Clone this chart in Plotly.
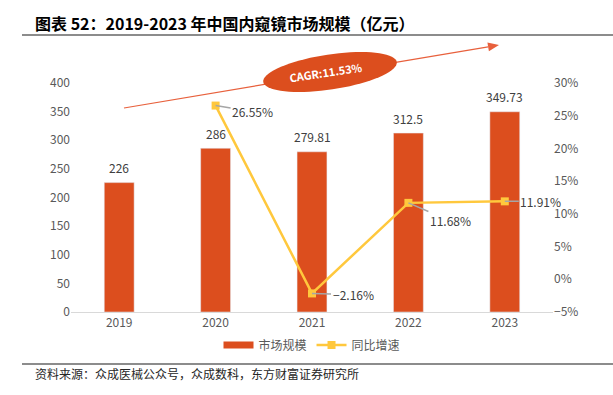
import numpy as np
import plotly.graph_objects as go

# ---------------- data ----------------
years = ["2019", "2020", "2021", "2022", "2023"]
market_size = [226, 286, 279.81, 312.5, 349.73]
size_labels = ["226", "286", "279.81", "312.5", "349.73"]
growth_years = ["2020", "2021", "2022", "2023"]
growth = [26.55, -2.16, 11.68, 11.91]
left_ticks = [0, 50, 100, 150, 200, 250, 300, 350, 400]
right_ticks = [-5, 0, 5, 10, 15, 20, 25, 30]
cagr_text = "CAGR:11.53%"
title_text = "图表 52：2019-2023 年中国内窥镜市场规模（亿元）"
source_text = "资料来源：众成医械公众号，众成数科，东方财富证券研究所"

# category positions on the x axis (from the category list)
xpos = list(range(len(years)))
gpos = [years.index(y) for y in growth_years]

# ---------------- styling ----------------
W, H = 613, 395
L, R, T, B = 71, 553, 83, 312
RED = "#DC4E1E"
YEL = "#FFC83D"
GRAY_TXT = "#595959"
FONT = "Noto Sans CJK SC"

def px(x):
    return float((x - L) / (R - L))

def py(y):
    return float((B - y) / (B - T))

fig = go.Figure()
fig.add_trace(go.Bar(x=xpos, y=market_size, name="市场规模", marker_color=RED,
                     showlegend=False, hoverinfo="skip", width=0.31))
# legend swatch for the bars (wide flat rectangle as in the reference)
fig.add_trace(go.Scatter(x=[xpos[0]], y=[None], mode="lines", name="市场规模",
                         line=dict(color=RED, width=7), hoverinfo="skip"))
fig.add_trace(go.Scatter(x=gpos, y=growth, mode="lines+markers", name="同比增速",
                         yaxis="y2", line=dict(color=YEL, width=2.5),
                         marker=dict(symbol="square", size=8, color=YEL)))

annotations = []
# bar value labels
for xi, v, lab in zip(xpos, market_size, size_labels):
    annotations.append(dict(x=xi, y=v, xref="x", yref="y", text=lab, showarrow=False,
                            yshift=15, font=dict(size=12, color="#404040", family=FONT)))
# growth labels with leader lines
label_dx = [37, 41, 42, 36]
label_dy = [6, 1, 18, 0]
for xi, g, dx, dy in zip(gpos, growth, label_dx, label_dy):
    annotations.append(dict(x=xi, y=g, xref="x", yref="y2",
                            text=f"{g:.2f}%".replace("-", "−"),
                            showarrow=True, arrowhead=0, arrowwidth=1.5, arrowcolor="#A6A6A6",
                            ax=dx, ay=dy, standoff=0,
                            font=dict(size=12, color="#404040", family=FONT)))
# title
annotations.append(dict(x=px(33), y=py(23), xref="paper", yref="paper", xanchor="left",
                        yanchor="middle", showarrow=False, text="<b>" + title_text + "</b>",
                        font=dict(size=16, color="#000000", family=FONT)))
# source
annotations.append(dict(x=px(33), y=py(373), xref="paper", yref="paper", xanchor="left",
                        yanchor="middle", showarrow=False, text=source_text,
                        font=dict(size=12, color="#262626", family=FONT)))
# CAGR text
annotations.append(dict(x=px(326), y=py(72), xref="paper", yref="paper", xanchor="center",
                        yanchor="middle", showarrow=False, text="<b>" + cagr_text + "</b>",
                        textangle=-8.5, font=dict(size=11, color="#FFFFFF", family=FONT)))

shapes = []
# title & source rules
for yy in (35, 364):
    shapes.append(dict(type="line", xref="paper", yref="paper", x0=px(22), x1=px(613),
                       y0=py(yy), y1=py(yy), line=dict(color="#8C8C8C", width=2)))
# CAGR arrow
sx, sy, tx, ty = 124, 108, 499, 45
d = np.array([tx - sx, ty - sy], dtype=float)
u = d / np.linalg.norm(d)
perp = np.array([-u[1], u[0]])
base = np.array([tx, ty]) - 11 * u
shapes.append(dict(type="line", xref="paper", yref="paper", x0=px(sx), y0=py(sy),
                   x1=px(base[0]), y1=py(base[1]), line=dict(color="#E8603C", width=1.2)))
p1 = base + 4.5 * perp
p2 = base - 4.5 * perp
shapes.append(dict(type="path", xref="paper", yref="paper",
                   path=f"M{px(tx):.5f},{py(ty):.5f} L{px(p1[0]):.5f},{py(p1[1]):.5f} "
                        f"L{px(p2[0]):.5f},{py(p2[1]):.5f} Z",
                   fillcolor="#E8603C", line=dict(color="#E8603C", width=0)))
# CAGR ellipse
cx, cy, a, b, th = 330, 72, 67.5, 17.5, np.radians(8.5)
t = np.linspace(0, 2 * np.pi, 73)
ex = cx + a * np.cos(t) * np.cos(th) + b * np.sin(t) * np.sin(th)
ey = cy - a * np.cos(t) * np.sin(th) + b * np.sin(t) * np.cos(th)
path = "M" + " L".join(f"{px(X):.5f},{py(Y):.5f}" for X, Y in zip(ex, ey)) + " Z"
shapes.append(dict(type="path", xref="paper", yref="paper", path=path,
                   fillcolor=RED, line=dict(color=RED, width=0)))

fig.update_layout(
    width=W, height=H,
    margin=dict(l=L, r=W - R, t=T, b=H - B, pad=0),
    paper_bgcolor="white", plot_bgcolor="white",
    font=dict(family=FONT, size=12, color=GRAY_TXT),
    showlegend=True,
    legend=dict(orientation="h", x=0.5, xanchor="center", y=py(345), yanchor="middle",
                font=dict(size=12, color=GRAY_TXT, family=FONT), bgcolor="rgba(0,0,0,0)"),
    xaxis=dict(range=[-0.5, len(years) - 0.5], tickmode="array", tickvals=xpos,
               ticktext=years, showline=True, linecolor="#D9D9D9", linewidth=1,
               showgrid=False, zeroline=False, ticks="",
               tickfont=dict(size=12, color=GRAY_TXT)),
    yaxis=dict(range=[0, 400], tickmode="array", tickvals=left_ticks, showgrid=False,
               zeroline=False, showline=False, ticks="", tickfont=dict(size=12, color=GRAY_TXT)),
    yaxis2=dict(range=[-5, 30], tickmode="array", tickvals=right_ticks,
                ticktext=[f"{v}%".replace("-", "−") for v in right_ticks],
                overlaying="y", side="right", showgrid=False, zeroline=False, showline=False,
                ticks="", tickfont=dict(size=12, color=GRAY_TXT)),
    annotations=annotations,
    shapes=shapes,
)

fig.write_html("out.html", config={"displayModeBar": False},
               post_script="document.body.style.margin='0px';document.body.style.padding='0px';")
